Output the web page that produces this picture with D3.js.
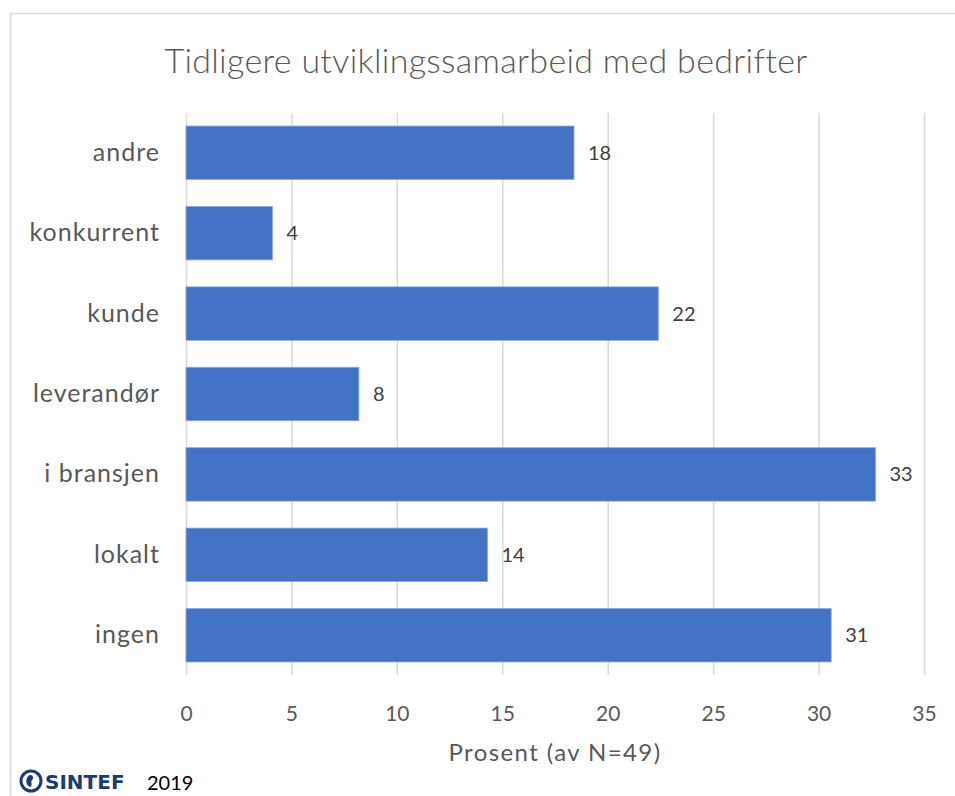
<!DOCTYPE html>
<html>
<head>
<meta charset="utf-8">
<script src="https://cdn.jsdelivr.net/npm/d3@7"></script>
<style>
  body { margin: 0; background: #fff; }
  svg { display: block; }
</style>
</head>
<body>
<svg id="chart"></svg>
<script>
// categories top to bottom, as in the reference
const categories = ['andre', 'konkurrent', 'kunde', 'leverandør', 'i bransjen', 'lokalt', 'ingen'];
const values = [18.4, 4.1, 22.4, 8.2, 32.7, 14.3, 30.6];
const xTicks = [0, 5, 10, 15, 20, 25, 30, 35];
const title = 'Tidligere utviklingssamarbeid med bedrifter';
const xTitle = 'Prosent (av N=49)';

const width = 955, height = 796;
const margin = { top: 113, right: 31, bottom: 121, left: 186 };
const font = 'Lato, "Open Sans", sans-serif';

const svg = d3.select('#chart')
    .attr('width', width)
    .attr('height', height);

// chart frame
svg.append('rect')
    .attr('x', 10.5)
    .attr('y', 13.5)
    .attr('width', width)
    .attr('height', height)
    .attr('fill', 'none')
    .attr('stroke', '#d9d9d9')
    .attr('stroke-width', 1.5);

const x = d3.scaleLinear()
    .domain([0, 35])
    .range([margin.left, width - margin.right]);

const y = d3.scaleBand()
    .domain(categories)
    .range([margin.top, height - margin.bottom])
    .paddingInner(0.335)
    .paddingOuter(0.162);

// gridlines
svg.append('g')
    .selectAll('line')
    .data(xTicks)
    .enter()
    .append('line')
    .attr('x1', d => x(d) + 0.5)
    .attr('x2', d => x(d) + 0.5)
    .attr('y1', margin.top)
    .attr('y2', height - margin.bottom)
    .attr('stroke', '#d9d9d9')
    .attr('stroke-width', 1.5);

// x axis labels
const xAxis = d3.axisBottom(x)
    .tickValues(xTicks)
    .tickSize(0)
    .tickPadding(0);

const gx = svg.append('g')
    .attr('transform', `translate(0, ${height - margin.bottom})`)
    .call(xAxis);
gx.select('.domain').remove();
gx.selectAll('text')
    .attr('dy', 0)
    .attr('y', 46)
    .attr('fill', '#595959')
    .style('font-family', font)
    .style('font-size', '21px');

// y axis labels
const yAxis = d3.axisLeft(y)
    .tickSize(0)
    .tickPadding(26);

const gy = svg.append('g')
    .attr('transform', `translate(${margin.left}, 0)`)
    .call(yAxis);
gy.select('.domain').remove();
gy.selectAll('text')
    .attr('fill', '#595959')
    .style('font-family', font)
    .style('font-size', '25px')
    .style('letter-spacing', '1px');

// bars
svg.append('g')
    .selectAll('rect')
    .data(values)
    .enter()
    .append('rect')
    .attr('x', x(0))
    .attr('y', (d, i) => y(categories[i]))
    .attr('width', d => x(d) - x(0))
    .attr('height', y.bandwidth())
    .attr('fill', '#4472c4')
    .attr('stroke', '#8faadc')
    .attr('stroke-width', 0.8);

// value labels
svg.append('g')
    .selectAll('text')
    .data(values)
    .enter()
    .append('text')
    .attr('x', d => x(d) + 14)
    .attr('y', (d, i) => y(categories[i]) + y.bandwidth() / 2)
    .attr('dy', '0.35em')
    .attr('fill', '#404040')
    .style('font-family', font)
    .style('font-size', '20px')
    .text(d => d3.format('.0f')(d));

// title
svg.append('text')
    .attr('x', 486)
    .attr('y', 73)
    .attr('text-anchor', 'middle')
    .attr('fill', '#595959')
    .style('font-family', font)
    .style('font-weight', 300)
    .style('font-size', '34px')
    .style('letter-spacing', '0.3px')
    .text(title);

// x axis title
svg.append('text')
    .attr('x', 555)
    .attr('y', 761)
    .attr('text-anchor', 'middle')
    .attr('fill', '#595959')
    .style('font-family', font)
    .style('font-size', '24px')
    .style('letter-spacing', '1.4px')
    .text(xTitle);

// SINTEF footer
const logo = svg.append('g').attr('transform', 'translate(31, 781)');
logo.append('circle')
    .attr('r', 10)
    .attr('fill', 'none')
    .attr('stroke', '#1b3c73')
    .attr('stroke-width', 3);
logo.append('path')
    .attr('d', 'M-1,-6 C-6,-4 -6,4 -1,6 C3,4 -2,1 2,-2 C3,-4 1,-6 -1,-6 Z')
    .attr('fill', '#1b3c73');
svg.append('text')
    .attr('x', 45)
    .attr('y', 789)
    .attr('fill', '#1b3c73')
    .style('font-family', '"DejaVu Sans", sans-serif')
    .style('font-weight', 'bold')
    .style('font-size', '20px')
    .text('SINTEF');
svg.append('text')
    .attr('x', 147)
    .attr('y', 790)
    .attr('fill', '#000')
    .style('font-family', font)
    .style('font-size', '20px')
    .text('2019');
</script>
</body>
</html>
